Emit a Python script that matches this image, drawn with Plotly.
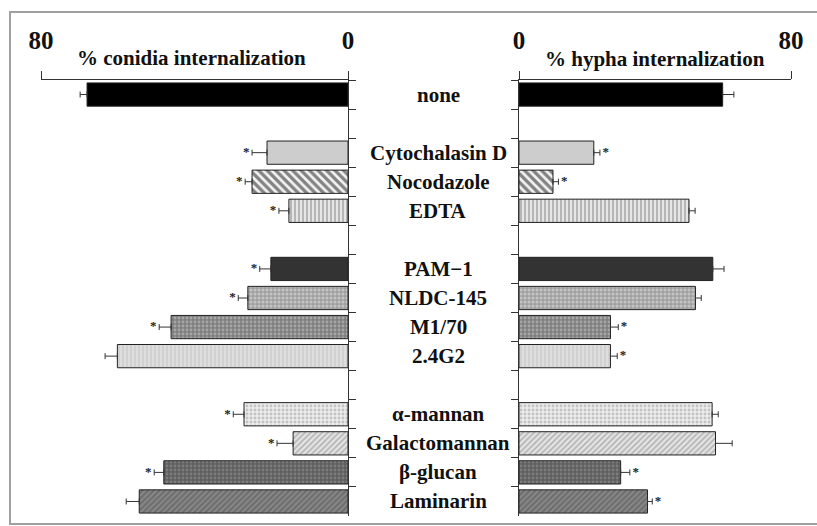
import plotly.graph_objects as go

# ---------------- data ----------------
slots = ["none", "gap1", "Cytochalasin D", "Nocodazole", "EDTA", "gap2",
         "PAM\u22121", "NLDC-145", "M1/70", "2.4G2", "gap3",
         "\u03b1-mannan", "Galactomannan", "\u03b2-glucan", "Laminarin"]
categories = ["none", "Cytochalasin D", "Nocodazole", "EDTA",
              "PAM\u22121", "NLDC-145", "M1/70", "2.4G2",
              "\u03b1-mannan", "Galactomannan", "\u03b2-glucan", "Laminarin"]
conidia = [68.0, 21.1, 25.0, 15.4, 20.1, 26.1, 46.1, 60.1, 27.1, 14.3, 48.0, 54.4]
conidia_err = [1.8, 3.9, 1.8, 2.6, 2.9, 2.5, 3.1, 3.2, 2.8, 4.2, 2.5, 3.4]
conidia_sig = [False, True, True, True, True, True, True, False, True, True, True, False]
hypha = [59.9, 22.0, 10.0, 50.0, 57.0, 51.9, 26.9, 26.9, 56.8, 57.8, 29.9, 37.8]
hypha_err = [3.3, 1.8, 1.6, 1.8, 3.3, 1.7, 2.3, 2.0, 1.8, 4.9, 2.7, 1.4]
hypha_sig = [False, True, True, False, False, False, True, True, False, False, True, True]
tick_vals = [0, 80]
tick_text = ["0", "80"]
title_left = "% conidia internalization"
title_right = "% hypha internalization"

# ---------------- styles ----------------
styles = [
    dict(color="#000000"),
    dict(color="#cdcdcd"),
    dict(color="#ffffff", pattern=dict(shape="\\", fgcolor="#111111", bgcolor="#f4f4f4", size=6, solidity=0.55)),
    dict(color="#e6e6e6", pattern=dict(shape="|", fgcolor="#444444", bgcolor="#e6e6e6", size=4, solidity=0.3)),
    dict(color="#333333"),
    dict(color="#a9a9a9", pattern=dict(shape=".", fgcolor="#e8e8e8", bgcolor="#a0a0a0", size=4, solidity=0.45)),
    dict(color="#8a8a8a", pattern=dict(shape=".", fgcolor="#cfcfcf", bgcolor="#7e7e7e", size=4, solidity=0.4)),
    dict(color="#d6d6d6", pattern=dict(shape="|", fgcolor="#b8b8b8", bgcolor="#dedede", size=4, solidity=0.35)),
    dict(color="#e2e2e2", pattern=dict(shape=".", fgcolor="#9a9a9a", bgcolor="#ececec", size=4, solidity=0.4)),
    dict(color="#cfcfcf", pattern=dict(shape="/", fgcolor="#808080", bgcolor="#e4e4e4", size=4, solidity=0.4)),
    dict(color="#6c6c6c", pattern=dict(shape=".", fgcolor="#9c9c9c", bgcolor="#5e5e5e", size=4, solidity=0.4)),
    dict(color="#7a7a7a", pattern=dict(shape="/", fgcolor="#a8a8a8", bgcolor="#6e6e6e", size=4, solidity=0.4)),
]

W, H = 817, 526
ML, MR, MT, MB = 41, 26, 80, 10
PW, PH = W - ML - MR, H - MT - MB


def px_x(p):
    return (p - ML) / PW


def px_y(p):
    return 1 - (p - MT) / PH


LEFT_DOM = [0, px_x(348)]
RIGHT_DOM = [px_x(519), 1]
SERIF = "Liberation Serif, Times New Roman, serif"

fig = go.Figure()
for i, cat in enumerate(categories):
    st = styles[i]
    marker = dict(color=st["color"], line=dict(color="#222222", width=1))
    if "pattern" in st:
        marker["pattern"] = st["pattern"]
    fig.add_trace(go.Bar(
        x=[conidia[i]], y=[cat], orientation="h", width=0.8,
        marker=marker, xaxis="x", yaxis="y", showlegend=False,
        error_x=dict(type="data", array=[conidia_err[i]], arrayminus=[0], symmetric=False,
                     color="#333333", thickness=1, width=3)))
    fig.add_trace(go.Bar(
        x=[hypha[i]], y=[cat], orientation="h", width=0.8,
        marker=marker, xaxis="x2", yaxis="y2", showlegend=False,
        error_x=dict(type="data", array=[hypha_err[i]], arrayminus=[0], symmetric=False,
                     color="#333333", thickness=1, width=3)))

# significance asterisks
fig.add_trace(go.Scatter(
    x=[v + e for v, e, s in zip(conidia, conidia_err, conidia_sig) if s],
    y=[c for c, s in zip(categories, conidia_sig) if s],
    mode="text", text=["*\u2009"] * sum(conidia_sig), textposition="middle left",
    textfont=dict(family=SERIF, size=13, color="#222222", weight="bold"),
    xaxis="x", yaxis="y", showlegend=False, cliponaxis=False))
fig.add_trace(go.Scatter(
    x=[v + e for v, e, s in zip(hypha, hypha_err, hypha_sig) if s],
    y=[c for c, s in zip(categories, hypha_sig) if s],
    mode="text", text=["\u2009*"] * sum(hypha_sig), textposition="middle right",
    textfont=dict(family=SERIF, size=13, color="#222222", weight="bold"),
    xaxis="x2", yaxis="y2", showlegend=False, cliponaxis=False))

xcommon = dict(side="top", tickvals=tick_vals, ticktext=tick_text, ticks="outside",
               ticklen=8, tickcolor="#333333", showline=True, linecolor="#333333",
               linewidth=1, showgrid=False, zeroline=False,
               tickfont=dict(family=SERIF, size=25, color="#111111", weight="bold"),
               ticklabelstandoff=12)
ycommon = dict(type="category", categoryorder="array", categoryarray=slots,
               range=[len(slots) - 0.5, -0.5], tickson="boundaries", ticks="outside",
               ticklen=7, tickcolor="#333333", showline=True, linecolor="#333333",
               linewidth=1, showgrid=False, zeroline=False, showticklabels=False)

fig.update_layout(
    width=W, height=H, margin=dict(l=ML, r=MR, t=MT, b=MB),
    paper_bgcolor="white", plot_bgcolor="white",
    bargap=0.2,
    xaxis=dict(domain=LEFT_DOM, range=[80, 0], anchor="y", **xcommon),
    xaxis2=dict(domain=RIGHT_DOM, range=[0, 80], anchor="y2", **xcommon),
    yaxis=dict(anchor="x", side="right", **ycommon),
    yaxis2=dict(anchor="x2", side="left", matches="y", **ycommon),
)

annotations = []
for cat in categories:
    annotations.append(dict(text=cat, x=px_x(438), xref="paper", y=cat, yref="y",
                            showarrow=False, xanchor="center", yanchor="middle",
                            font=dict(family=SERIF, size=21, color="#111111", weight="bold")))
annotations.append(dict(text=title_left, x=px_x(191), xref="paper", y=px_y(58), yref="paper",
                        showarrow=False, xanchor="center", yanchor="middle",
                        font=dict(family=SERIF, size=21, color="#111111", weight="bold")))
annotations.append(dict(text=title_right, x=px_x(655), xref="paper", y=px_y(59), yref="paper",
                        showarrow=False, xanchor="center", yanchor="middle",
                        font=dict(family=SERIF, size=21, color="#111111", weight="bold")))
fig.update_layout(annotations=annotations)

# figure frame
fig.add_shape(type="rect", xref="paper", yref="paper",
              x0=px_x(10), x1=px_x(830), y0=px_y(524), y1=px_y(12),
              line=dict(color="#a0a0a0", width=2), fillcolor="rgba(0,0,0,0)", layer="below")

fig.write_html("out.html")
